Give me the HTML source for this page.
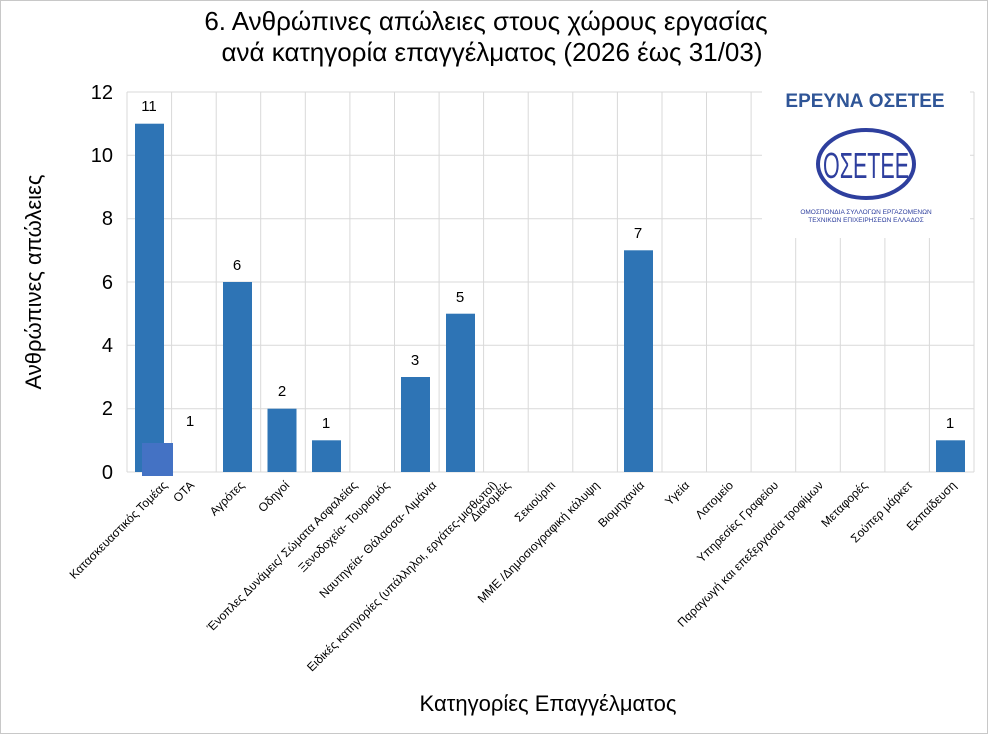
<!DOCTYPE html>
<html><head><meta charset="utf-8"><style>
body{margin:0;background:#fff}
svg{display:block;font-family:"Liberation Sans","DejaVu Sans",sans-serif}
</style></head><body>
<svg width="988" height="736" viewBox="0 0 988 736" xmlns="http://www.w3.org/2000/svg">
<rect x="0.5" y="0.5" width="987" height="733" fill="#fff" stroke="#c8c8c8"/>
<text x="486" y="30" font-size="26" text-anchor="middle">6. Ανθρώπινες απώλειες στους χώρους εργασίας</text>
<text x="492" y="61" font-size="26" text-anchor="middle">ανά κατηγορία επαγγέλματος (2026 έως 31/03)</text>
<g stroke="#d9d9d9" stroke-width="1">
<line x1="127" y1="92" x2="974" y2="92"/><line x1="127" y1="155.3" x2="974" y2="155.3"/>
<line x1="127" y1="218.7" x2="974" y2="218.7"/><line x1="127" y1="282" x2="974" y2="282"/>
<line x1="127" y1="345.3" x2="974" y2="345.3"/><line x1="127" y1="408.7" x2="974" y2="408.7"/>
<line x1="127" y1="472" x2="974" y2="472"/>
</g>
<g stroke="#d9d9d9">
<line x1="127" y1="92" x2="127" y2="472"/><line x1="171.6" y1="92" x2="171.6" y2="472"/><line x1="216.2" y1="92" x2="216.2" y2="472"/><line x1="260.7" y1="92" x2="260.7" y2="472"/><line x1="305.3" y1="92" x2="305.3" y2="472"/><line x1="349.9" y1="92" x2="349.9" y2="472"/><line x1="394.5" y1="92" x2="394.5" y2="472"/><line x1="439.1" y1="92" x2="439.1" y2="472"/><line x1="483.6" y1="92" x2="483.6" y2="472"/><line x1="528.2" y1="92" x2="528.2" y2="472"/><line x1="572.8" y1="92" x2="572.8" y2="472"/><line x1="617.4" y1="92" x2="617.4" y2="472"/><line x1="662" y1="92" x2="662" y2="472"/><line x1="706.5" y1="92" x2="706.5" y2="472"/><line x1="751.1" y1="92" x2="751.1" y2="472"/><line x1="795.7" y1="92" x2="795.7" y2="472"/><line x1="840.3" y1="92" x2="840.3" y2="472"/><line x1="884.9" y1="92" x2="884.9" y2="472"/><line x1="929.4" y1="92" x2="929.4" y2="472"/><line x1="974" y1="92" x2="974" y2="472"/>
</g>
<g font-size="20" text-anchor="end">
<text x="113" y="99">12</text><text x="113" y="162">10</text><text x="113" y="225">8</text><text x="113" y="289">6</text><text x="113" y="352">4</text><text x="113" y="415">2</text><text x="113" y="479">0</text>
</g>
<text transform="translate(41,282) rotate(-90)" font-size="22" text-anchor="middle">Ανθρώπινες απώλειες</text>
<g fill="#2e74b5">
<rect x="135" y="123.7" width="29" height="348.3"/>
<rect x="223" y="282" width="29" height="190"/>
<rect x="267.5" y="408.7" width="29" height="63.3"/>
<rect x="312" y="440.3" width="29" height="31.7"/>
<rect x="401" y="377" width="29" height="95"/>
<rect x="446" y="313.7" width="29" height="158.3"/>
<rect x="624" y="250.3" width="29" height="221.7"/>
<rect x="936" y="440.3" width="29" height="31.7"/>
</g>
<rect x="142" y="443" width="31" height="33" fill="#4472c4"/>
<g font-size="15" text-anchor="middle">
<text x="149" y="111">11</text><text x="190" y="426">1</text><text x="237" y="270">6</text><text x="282" y="396">2</text><text x="326" y="428">1</text><text x="415" y="365">3</text><text x="460" y="302">5</text><text x="638" y="238">7</text><text x="950" y="428">1</text>
</g>
<g font-size="12" text-anchor="end">
<text transform="translate(168,486) rotate(-45)">Κατασκευαστικός Τομέας</text>
<text transform="translate(195,486) rotate(-45)">ΟΤΑ</text>
<text transform="translate(245,486) rotate(-45)">Αγρότες</text>
<text transform="translate(290,486) rotate(-45)">Οδηγοί</text>
<text transform="translate(358,486) rotate(-45)">Ένοπλες Δυνάμεις/ Σώματα Ασφαλείας</text>
<text transform="translate(390,486) rotate(-45)">Ξενοδοχεία- Τουρισμός</text>
<text transform="translate(437,486) rotate(-45)">Ναυτηγεία- Θάλασσα- Λιμάνια</text>
<text transform="translate(498,486) rotate(-45)">Ειδικές κατηγορίες (υπάλληλοι, εργάτες-μισθωτοί)</text>
<text transform="translate(511,486) rotate(-45)">Διανομείς</text>
<text transform="translate(556,486) rotate(-45)">Σεκιούριτι</text>
<text transform="translate(600,486) rotate(-45)">ΜΜΕ /Δημοσιογραφική κάλυψη</text>
<text transform="translate(645,486) rotate(-45)">Βιομηχανία</text>
<text transform="translate(690,486) rotate(-45)">Υγεία</text>
<text transform="translate(734,486) rotate(-45)">Λατομείο</text>
<text transform="translate(779,486) rotate(-45)">Υπηρεσίες Γραφείου</text>
<text transform="translate(824,486) rotate(-45)">Παραγωγή και επεξεργασία τροφίμων</text>
<text transform="translate(868,486) rotate(-45)">Μεταφορές</text>
<text transform="translate(913,486) rotate(-45)">Σούπερ μάρκετ</text>
<text transform="translate(957,486) rotate(-45)">Εκπαίδευση</text>
</g>
<text x="548" y="711" font-size="22" text-anchor="middle">Κατηγορίες Επαγγέλματος</text>
<rect x="762" y="82" width="208" height="156" fill="#fff"/>
<text x="865" y="107" font-size="19" font-weight="bold" fill="#2f5597" text-anchor="middle">ΕΡΕΥΝΑ ΟΣΕΤΕΕ</text>
<ellipse cx="866" cy="164" rx="48" ry="34" fill="#fff" stroke="#2e3f9e" stroke-width="4"/>
<text x="866" y="178" font-size="36" fill="#2e3f9e" text-anchor="middle" textLength="86" lengthAdjust="spacingAndGlyphs">ΟΣΕΤΕΕ</text>
<text x="866" y="214" font-size="6.5" fill="#2e3f9e" text-anchor="middle">ΟΜΟΣΠΟΝΔΙΑ ΣΥΛΛΟΓΩΝ ΕΡΓΑΖΟΜΕΝΩΝ</text>
<text x="866" y="222" font-size="6.5" fill="#2e3f9e" text-anchor="middle">ΤΕΧΝΙΚΩΝ ΕΠΙΧΕΙΡΗΣΕΩΝ ΕΛΛΑΔΟΣ</text>
</svg>
</body></html>
